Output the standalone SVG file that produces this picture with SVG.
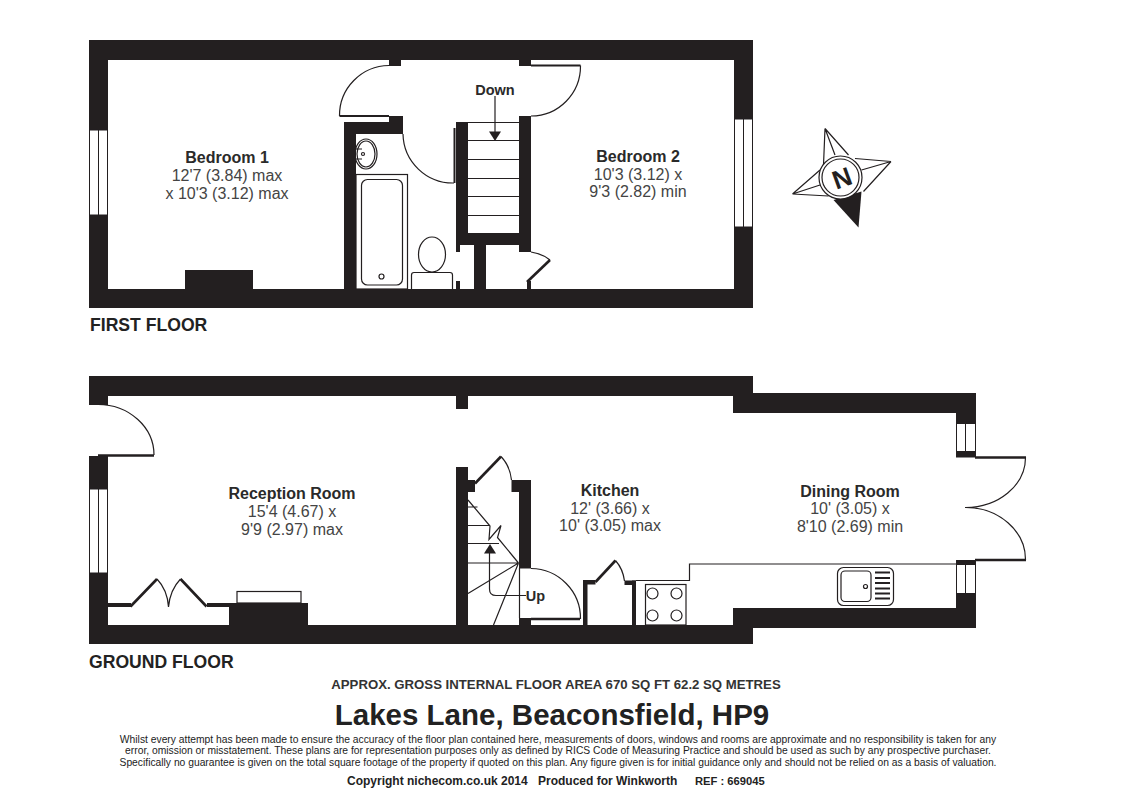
<svg xmlns="http://www.w3.org/2000/svg" width="1127" height="811" viewBox="0 0 1127 811">
<style>
.w{fill:#231f20;stroke:none}
.win{fill:#fff;stroke:#231f20;stroke-width:1}
.l{fill:none;stroke:#231f20;stroke-width:1.2}
.h{fill:none;stroke:#231f20;stroke-width:2.600}
.h2{fill:none;stroke:#231f20;stroke-width:2}
.f{fill:#231f20;stroke:none}
text{font-family:"Liberation Sans",Arial,sans-serif}
.n{font-size:16px;font-weight:bold;fill:#2a2a2a;text-anchor:middle}
.d{font-size:16px;fill:#444;text-anchor:middle}
.fl{font-size:17.600px;font-weight:bold;fill:#222}
.s{font-size:10.300px;fill:#222;text-anchor:middle}
</style>
<rect width="1127" height="811" fill="#fff"/>
<g id="first-floor">
<rect class="w" x="89" y="40" width="664" height="20"/>
<rect class="w" x="89" y="289" width="664" height="19"/>
<rect class="w" x="89" y="40" width="19" height="268"/>
<rect class="w" x="734" y="40" width="19" height="268"/>
<rect class="win" x="89.500" y="130" width="9" height="85"/><rect class="win" x="98.500" y="130" width="9" height="85"/>
<rect class="win" x="734.500" y="119" width="9" height="108"/><rect class="win" x="743.500" y="119" width="9" height="108"/>
<rect class="w" x="185" y="270" width="68" height="19"/>
<rect class="w" x="389" y="60" width="12" height="6"/>
<rect class="w" x="519" y="60" width="12" height="6"/>
<rect class="w" x="344" y="122" width="59" height="12"/>
<rect class="w" x="389" y="116" width="14" height="6"/>
<rect class="w" x="344" y="122" width="12" height="167"/>
<rect class="w" x="456" y="122" width="12" height="123"/>
<rect class="w" x="519" y="116" width="12" height="136"/>
<rect class="w" x="456" y="233" width="75" height="12"/>
<rect class="w" x="456" y="245" width="4" height="7"/>
<rect class="w" x="474" y="245" width="12" height="44"/>
<rect class="w" x="456" y="281" width="4" height="8"/>
<rect class="w" x="527" y="281" width="4" height="8"/>
<path class="h2" d="M531 65.500H580.500"/>
<path class="l" d="M580.500 65.500A50 50 0 0 1 531 116"/>
<path class="h2" d="M389 116H339.500"/>
<path class="l" d="M339.500 116A50 50 0 0 1 389 65.500"/>
<path class="h2" d="M454.500 128V183"/>
<path class="l" d="M403 134A50 50 0 0 0 454 183"/>
<path class="h" d="M527 282L550 260"/>
<path class="l" d="M531 252Q543 254 550 260"/>
<path class="l" d="M468 122.500H519M468 140.500H519M468 159.500H519M468 178.500H519M468 196.500H519M468 215.500H519"/>
<path class="l" d="M495 96V133"/>
<polygon class="f" points="489,131.500 501,131.500 495,141"/>
<ellipse class="l" cx="366" cy="154" rx="11" ry="15"/>
<ellipse class="l" cx="366" cy="154" rx="9" ry="13"/>
<circle class="l" cx="363" cy="154" r="1.500"/>
<path class="l" d="M356 149H362M356 159H362"/>
<rect class="l" x="356" y="174.500" width="51.500" height="114.500"/>
<rect class="l" x="361.500" y="179.500" width="41" height="105.500" rx="6"/>
<circle class="l" cx="381.500" cy="276.500" r="2.500"/>
<ellipse class="l" cx="432" cy="254.500" rx="13.500" ry="17.500"/>
<path class="l" d="M411.500 289V275Q411.500 272.500 414 272.500H450Q452.500 272.500 452.500 275V289"/>
</g>
<text class="n" x="227" y="163">Bedroom 1</text>
<text class="d" x="227" y="181">12'7 (3.84) max</text>
<text class="d" x="227" y="199">x 10'3 (3.12) max</text>
<text class="n" x="638" y="162">Bedroom 2</text>
<text class="d" x="638" y="180">10'3 (3.12) x</text>
<text class="d" x="638" y="197">9'3 (2.82) min</text>
<text class="n" x="495" y="95" style="font-size:14.500px">Down</text>
<text class="fl" x="90" y="331">FIRST FLOOR</text>
<g id="compass">
<path class="l" d="M825 128.500L823.500 165M825 128.500L848.500 155M825 128.500L835 155M891 161.500L855 158.500M891 161.500L863.500 191.500M891 161.500L861.500 170M792.500 194L820 170M792.500 194L828.500 196M792.500 194L820 185"/>
<polygon class="f" points="858.500,227.500 833.500,200 861.500,191.500"/>
<circle cx="840.500" cy="177.500" r="21.500" fill="#fff" stroke="#231f20" stroke-width="1.200"/>
<circle class="l" cx="840.500" cy="177.500" r="18.500"/>
<text x="842" y="187" text-anchor="middle" transform="rotate(-20 842 178)" style="font-size:26px;font-weight:bold;fill:#231f20">N</text>
</g>
<g id="ground-floor">
<rect class="w" x="89" y="376" width="664" height="20"/>
<rect class="w" x="89" y="625" width="664" height="19"/>
<rect class="w" x="89" y="376" width="19" height="29"/>
<rect class="w" x="89" y="456" width="19" height="188"/>
<rect class="win" x="89.500" y="489" width="9" height="84"/><rect class="win" x="98.500" y="489" width="9" height="84"/>
<rect class="w" x="456" y="396" width="12" height="13"/>
<rect class="w" x="733" y="393" width="243" height="20"/>
<rect class="w" x="956" y="393" width="20" height="30"/>
<rect class="w" x="956" y="451" width="20" height="6.500"/>
<rect class="win" x="956.500" y="423.500" width="9" height="28"/><rect class="win" x="965.500" y="423.500" width="10" height="28"/>
<rect class="w" x="956" y="560" width="20" height="4"/>
<rect class="win" x="956.500" y="564.500" width="9" height="29"/><rect class="win" x="965.500" y="564.500" width="10" height="29"/>
<rect class="w" x="956" y="593.500" width="20" height="34"/>
<rect class="w" x="733" y="608" width="243" height="20"/>
<rect class="w" x="733" y="608" width="20" height="36"/>
<rect class="w" x="229" y="603" width="79" height="22"/>
<rect class="w" x="108" y="603" width="23" height="4"/>
<rect class="w" x="207" y="603" width="22" height="4"/>
<rect class="w" x="456" y="467" width="12" height="158"/>
<rect class="w" x="468" y="480" width="7" height="12"/>
<rect class="w" x="511.500" y="480" width="19.500" height="12"/>
<rect class="w" x="519" y="480" width="12" height="88.500"/>
<rect class="w" x="519" y="618" width="12" height="7"/>
<rect class="w" x="583" y="580" width="4.500" height="45"/>
<rect class="w" x="583" y="580" width="12.500" height="4.500"/>
<rect class="w" x="624.500" y="580.500" width="11.500" height="4.500"/>
<rect class="w" x="632" y="580.500" width="4" height="44.500"/>
<path class="h" d="M98 455.500H154"/>
<path class="l" d="M98 404.500A56 50.500 0 0 1 154 455"/>
<path class="h" d="M130.500 606.500L157 579M206.500 606.500L180.500 579"/>
<path class="l" d="M157 579Q167.500 590 168.500 607M180.500 579Q170 590 168.500 607"/>
<rect class="l" x="237" y="591.500" width="64" height="11.500"/>
<path class="h" d="M475 483.500L501 456.500"/>
<path class="l" d="M501 456.500Q510 466 511.500 480"/>
<path class="h" d="M531 619H580"/>
<path class="l" d="M531 568.500A50 50 0 0 1 580.500 619"/>
<path class="l" d="M519.500 568V618"/>
<path class="h" d="M595.500 582L615.500 560.500"/>
<path class="l" d="M615.500 560.500Q623 569 624.500 581"/>
<path class="l" d="M468 500L490 526L489 539.500L501 525.500L497.500 537.500L518.500 563M468 507H477.500M468 525.500H490M468 543.500H499M468 563H518.500M518.500 563L468 593.500M518.500 563L493.500 625"/>
<path class="l" d="M489.500 553V589Q489.500 595.500 496 595.500H526"/>
<polygon class="f" points="490,544 484,553.500 496,553.500"/>
<path class="l" d="M636 580.500H689.500V564H956"/>
<rect class="l" x="645.500" y="584.500" width="40.500" height="40.500"/>
<circle class="l" cx="652.500" cy="593.500" r="5.500"/><circle class="l" cx="676.500" cy="593.500" r="5.500"/>
<circle class="l" cx="652.500" cy="615.500" r="5.500"/><circle class="l" cx="676.500" cy="615.500" r="5.500"/>
<rect class="l" x="837.500" y="567.500" width="56" height="38" rx="6"/>
<rect class="l" x="841" y="571" width="30" height="30.500" rx="4"/>
<circle class="l" cx="865.500" cy="586.500" r="2"/>
<path class="l" style="stroke-width:2" d="M875 572.500H890M875 578H890M875 583H890M875 588.500H890M875 593.500H890M875 598.500H890"/>
<path class="h" d="M975 457.500H1026M975 560H1026"/>
<path class="l" d="M1025.500 457.500A60 50 0 0 1 965 507.500A60 52 0 0 1 1025.500 560"/>
</g>
<text class="n" x="292" y="499">Reception Room</text>
<text class="d" x="292" y="517">15'4 (4.67) x</text>
<text class="d" x="292" y="535">9'9 (2.97) max</text>
<text class="n" x="610" y="496">Kitchen</text>
<text class="d" x="610" y="514">12' (3.66) x</text>
<text class="d" x="610" y="531">10' (3.05) max</text>
<text class="n" x="850" y="497">Dining Room</text>
<text class="d" x="850" y="514">10' (3.05) x</text>
<text class="d" x="850" y="532">8'10 (2.69) min</text>
<text class="n" x="535.500" y="601" style="font-size:14.500px">Up</text>
<text class="fl" x="89" y="668">GROUND FLOOR</text>
<text x="556" y="689" text-anchor="middle" style="font-size:13.200px;font-weight:bold;fill:#333">APPROX. GROSS INTERNAL FLOOR AREA 670 SQ FT 62.2 SQ METRES</text>
<text x="552" y="725" text-anchor="middle" style="font-size:29.500px;font-weight:bold;fill:#222">Lakes Lane, Beaconsfield, HP9</text>
<text class="s" x="558" y="743">Whilst every attempt has been made to ensure the accuracy of the floor plan contained here, measurements of doors, windows and rooms are approximate and no responsibility is taken for any</text>
<text class="s" x="558" y="754">error, omission or misstatement. These plans are for representation purposes only as defined by RICS Code of Measuring Practice and should be used as such by any prospective purchaser.</text>
<text class="s" x="558" y="766">Specifically no guarantee is given on the total square footage of the property if quoted on this plan. Any figure given is for initial guidance only and should not be relied on as a basis of valuation.</text>
<text x="347" y="785" style="font-size:12px;font-weight:bold;fill:#222">Copyright nichecom.co.uk 2014<tspan x="538">Produced for Winkworth</tspan><tspan x="695" style="font-size:11.200px">REF : 669045</tspan></text>
</svg>
